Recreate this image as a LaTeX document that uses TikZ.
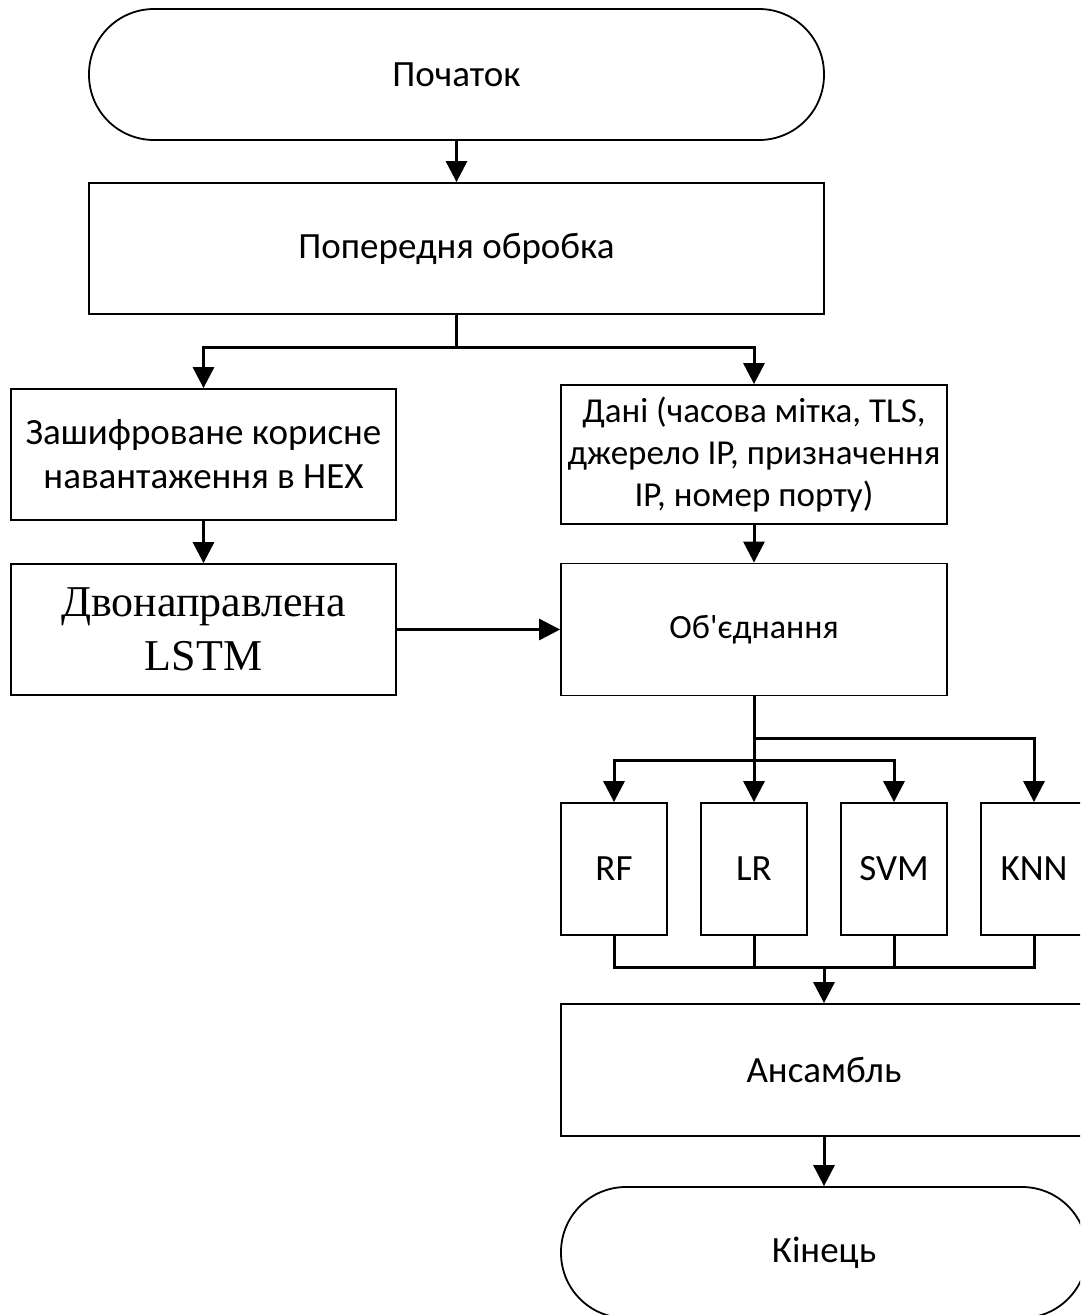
\documentclass[tikz,border=0pt]{standalone}
\usepackage{fontspec}
\setmainfont{Carlito}[Ligatures=TeXOff]
\newfontfamily\serifx{Liberation Serif}
\usetikzlibrary{arrows.meta}
\begin{document}
\begin{tikzpicture}[x=1pt,y=1pt,
  box/.style={draw,line width=1.8pt,rectangle,inner sep=0pt,align=center,
    font=\fontsize{37}{44}\selectfont},
  term/.style={box,rounded corners=65pt},
  conn/.style={line width=3pt},
  arr/.style={conn,-{Triangle[length=21pt,width=21pt]}}]
\useasboundingbox (0,0) rectangle (1080,-1315);
\fill[white] (0,0) rectangle (1080,-1315);
\clip (0,0) rectangle (1080,-1315);
\node[term,minimum width=735pt,minimum height=131pt] (start) at (456.5,-74.5) {Початок};
\node[box,minimum width=735pt,minimum height=131pt] (pre) at (456.5,-248.5) {Попередня обробка};
\node[box,minimum width=385pt,minimum height=131pt] (enc) at (203.5,-454.5) {Зашифроване корисне\\навантаження в HEX};
\node[box,minimum width=386pt,minimum height=139pt,font=\fontsize{35}{42}\selectfont] (data) at (754,-454.5) {Дані (часова мітка, TLS,\\джерело IP, призначення\\IP, номер порту)};
\node[box,minimum width=385pt,minimum height=131pt,font=\serifx\fontsize{44}{54}\selectfont] (lstm) at (203.5,-629.5) {Двонаправлена\\LSTM};
\node[box,minimum width=386pt,minimum height=132pt,font=\fontsize{34}{41}\selectfont] (merge) at (754,-629.5) {Об'єднання};
\node[box,minimum width=106pt,minimum height=132pt] (rf) at (614,-869) {RF};
\node[box,minimum width=106pt,minimum height=132pt] (lr) at (754,-869) {LR};
\node[box,minimum width=106pt,minimum height=132pt] (svm) at (894,-869) {SVM};
\node[box,minimum width=106pt,minimum height=132pt] (knn) at (1034,-869) {KNN};
\node[box,minimum width=526pt,minimum height=132pt] (ens) at (824,-1070) {Ансамбль};
\node[term,minimum width=526pt,minimum height=131pt] (end) at (824,-1252.5) {Кінець};
\coordinate (j1) at (456.5,-347);
\coordinate (j2) at (754,-738);
\coordinate (j3) at (754,-760);
\coordinate (j4) at (824,-967);
\draw[arr] (start) -- (pre);
\draw[conn] (pre.south) -- (j1);
\draw[arr] (j1) -| (enc.north);
\draw[arr] (j1) -| (data.north);
\draw[arr] (enc) -- (lstm);
\draw[arr] (data) -- (merge);
\draw[arr] (lstm.east) -- (merge.west);
\draw[arr] (merge.south) -- (lr.north);
\draw[arr] (j2) -| (knn.north);
\draw[arr] (j3) -| (rf.north);
\draw[arr] (j3) -| (svm.north);
\draw[conn] (rf.south) |- (j4) -| (knn.south);
\draw[conn] (lr.south) -- (lr.south |- j4);
\draw[conn] (svm.south) -- (svm.south |- j4);
\draw[arr] (j4) -- (ens.north);
\draw[arr] (ens) -- (end);
\end{tikzpicture}
\end{document}
